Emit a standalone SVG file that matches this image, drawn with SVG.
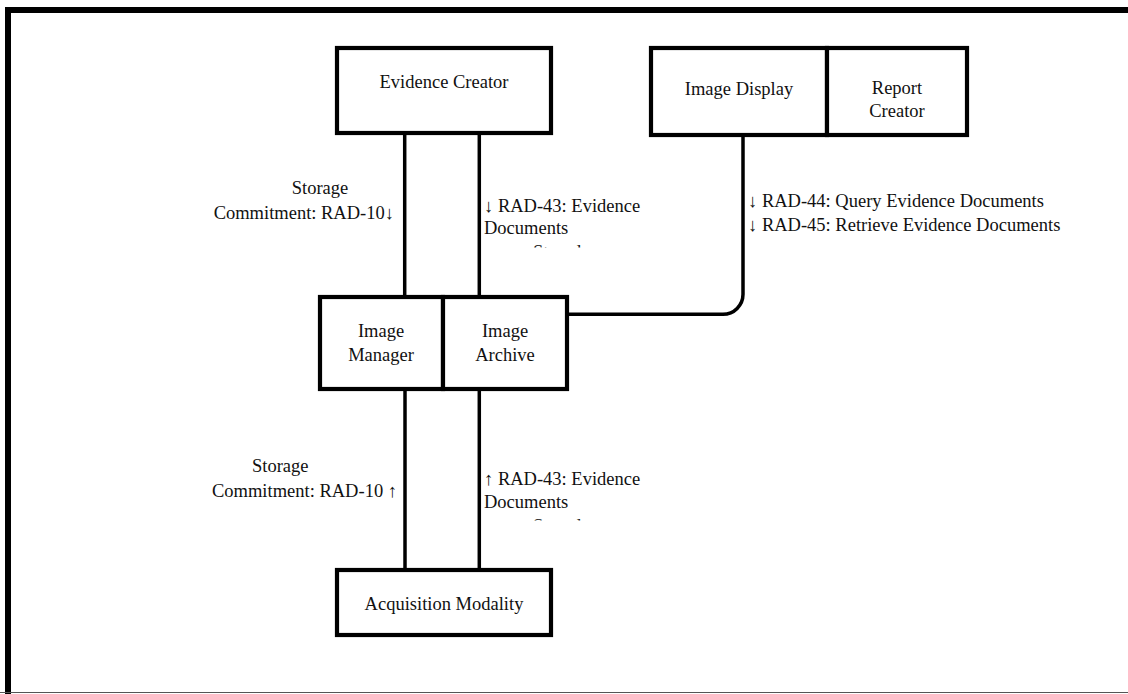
<svg xmlns="http://www.w3.org/2000/svg" width="1128" height="694" viewBox="0 0 1128 694">
<style>
.box{fill:#fff;stroke:#000;stroke-width:4.2}
.ln{fill:none;stroke:#000;stroke-width:3.5}
text{font-family:"Liberation Serif","Times New Roman",serif;font-size:18.5px;fill:#111}
.c{text-anchor:middle}
.e{text-anchor:end}
</style>
<defs>
<clipPath id="clipTop"><rect x="480" y="236" width="160" height="11.5"/></clipPath>
<clipPath id="clipBot"><rect x="480" y="510" width="160" height="10.5"/></clipPath>
</defs>
<rect x="0" y="0" width="1128" height="694" fill="#fff"/>
<g id="frame">
<path d="M8,694 V10 H1128" fill="none" stroke="#000" stroke-width="6"/>
<line x1="0" y1="692.5" x2="1128" y2="692.5" stroke="#555" stroke-width="1.2"/>
</g>
<g id="connectors">
<line class="ln" x1="404.7" y1="133" x2="404.7" y2="297"/>
<line class="ln" x1="479.3" y1="133" x2="479.3" y2="297"/>
<line class="ln" x1="405" y1="389" x2="405" y2="570"/>
<line class="ln" x1="479.3" y1="389" x2="479.3" y2="570"/>
<path class="ln" d="M567,314.3 H723 A20,20 0 0 0 743,294.3 V135"/>
</g>
<g id="labels">
<text class="c" x="320" y="194">Storage</text>
<text class="e" x="394" y="219">Commitment: RAD-10↓</text>
<text x="484" y="212">↓ RAD-43: Evidence</text>
<text x="484" y="234">Documents</text>
<text x="533" y="258" clip-path="url(#clipTop)">Stored</text>
<text x="252" y="472">Storage</text>
<text class="e" x="397" y="497">Commitment: RAD-10 ↑</text>
<text x="484" y="485">↑ RAD-43: Evidence</text>
<text x="484" y="508">Documents</text>
<text x="533" y="532" clip-path="url(#clipBot)">Stored</text>
<text x="748" y="207">↓ RAD-44: Query Evidence Documents</text>
<text x="748" y="231">↓ RAD-45: Retrieve Evidence Documents</text>
</g>
<g id="evidence-creator">
<rect class="box" x="337" y="48" width="214" height="85"/>
<text class="c" x="444" y="88">Evidence Creator</text>
</g>
<g id="image-display">
<rect class="box" x="651" y="48" width="176" height="87"/>
<text class="c" x="739" y="95">Image Display</text>
</g>
<g id="report-creator">
<rect class="box" x="827" y="48" width="140" height="87"/>
<text class="c" x="897" y="94">Report</text>
<text class="c" x="897" y="117">Creator</text>
</g>
<g id="image-manager">
<rect class="box" x="320" y="297" width="123" height="92"/>
<text class="c" x="381" y="337">Image</text>
<text class="c" x="381" y="361">Manager</text>
</g>
<g id="image-archive">
<rect class="box" x="443" y="297" width="124" height="92"/>
<text class="c" x="505" y="337">Image</text>
<text class="c" x="505" y="361">Archive</text>
</g>
<g id="acquisition-modality">
<rect class="box" x="337" y="570" width="214" height="65"/>
<text class="c" x="444" y="610">Acquisition Modality</text>
</g>
</svg>
